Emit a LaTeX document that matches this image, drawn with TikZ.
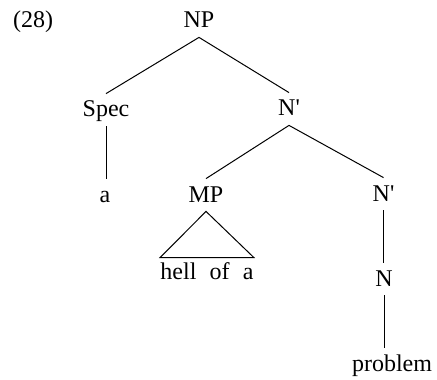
\documentclass[tikz,border=0pt]{standalone}
\usepackage{fontspec}
\setmainfont{Liberation Serif}
\usepackage{tikz}
\usetikzlibrary{positioning, calc}

\begin{document}
\begin{tikzpicture}[x=0.5pt, y=-0.5pt,
  cat/.style={anchor=base, font=\fontsize{12}{14}\selectfont, inner xsep=0pt, inner ysep=0pt,
              text height=11.5pt, text depth=4.5pt},
  branch/.style={line width=0.5pt},
]
\useasboundingbox (0,0) rectangle (437,379);

% example number
\node[cat] (exnum) at (33, 28) {(28)};

% top levels
\node[cat] (np) at (199, 28) {NP};
\node[cat] (spec) at (106, 117) {Spec};
\node[cat] (nbar) at (289, 116) {N\textquotesingle};

% middle row
\node[cat] (det) at (105, 202) {a};
\node[cat] (mp) at (206, 202) {MP};
\node[cat] (nbarlow) at (383.5, 201) {N\textquotesingle};

% lower rows
\node[cat, text height=10.5pt] (hell) at (207, 279) {hell\hspace{6.6pt}of\hspace{6.6pt}a};
\node[cat] (noun) at (384, 286) {N};
\node[cat] (prob) at (392, 371) {problem};

% branches
\draw[branch] (np.south) -- (spec.north);
\draw[branch] (np.south) -- (nbar.north);
\draw[branch] (spec.south) -- (spec.south |- det.north);
\draw[branch] (nbar.south) -- (mp.north);
\draw[branch] (nbar.south) -- (nbarlow.north);
\draw[branch] (mp.south) -- (hell.north west) -- (hell.north east) -- cycle;
\draw[branch] (nbarlow.south) -- (nbarlow.south |- noun.north);
\draw[branch] (noun.south) -- (noun.south |- prob.north);
\end{tikzpicture}
\end{document}
